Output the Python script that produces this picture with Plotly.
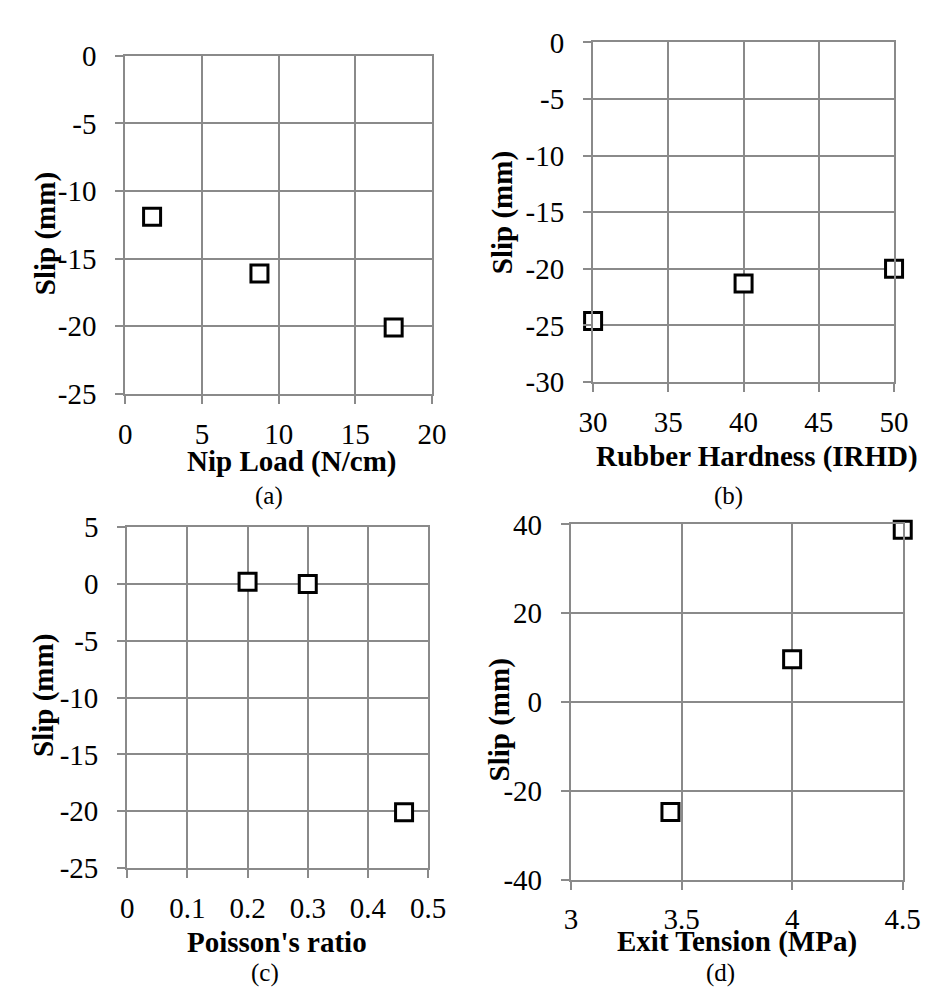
import plotly.graph_objects as go

# ---------------- data ----------------
nip_load = [1.75, 8.75, 17.5]
slip_a = [-11.9, -16.1, -20.1]

hardness = [30, 40, 50]
slip_b = [-24.6, -21.3, -20.0]

poisson = [0.2, 0.3, 0.46]
slip_c = [0.2, 0.0, -20.1]

exit_tension = [3.45, 4.0, 4.5]
slip_d = [-24.8, 9.6, 38.8]

# tick values / labels
a_xticks = [0, 5, 10, 15, 20]
a_yticks = [0, -5, -10, -15, -20, -25]
b_xticks = [30, 35, 40, 45, 50]
b_yticks = [0, -5, -10, -15, -20, -25, -30]
c_xticks = [0, 0.1, 0.2, 0.3, 0.4, 0.5]
c_yticks = [5, 0, -5, -10, -15, -20, -25]
d_xticks = [3, 3.5, 4, 4.5]
d_yticks = [40, 20, 0, -20, -40]

x_titles = ["Nip Load (N/cm)", "Rubber Hardness (IRHD)", "Poisson's ratio", "Exit Tension (MPa)"]
y_title = "Slip (mm)"
captions = ["(a)", "(b)", "(c)", "(d)"]

# ---------------- layout geometry (pixels) ----------------
W, H = 933, 996
FONT = '"Liberation Serif", "Times New Roman", "DejaVu Serif", serif'
GRID = "#8a8a8a"

panels = [
    dict(x=nip_load, y=slip_a, xt=a_xticks, yt=a_yticks, xr=[0, 20], yr=[-25, 0],
         box=(106, 424, 33, 382)),
    dict(x=hardness, y=slip_b, xt=b_xticks, yt=b_yticks, xr=[30, 50], yr=[-30, 0],
         box=(591, 903, 19, 370)),
    dict(x=poisson, y=slip_c, xt=c_xticks, yt=c_yticks, xr=[0, 0.5], yr=[-25, 5],
         box=(108, 420, 520, 872)),
    dict(x=exit_tension, y=slip_d, xt=d_xticks, yt=d_yticks, xr=[3, 4.5], yr=[-40, 40],
         box=(568, 912, 517, 884)),
]

xtitle_pos = [(278, 452), (761, 447), (263, 948), (740, 948)]
ytitle_pos = [(23, 217), (497, 195), (21, 694), (494, 719)]
caption_pos = [(255, 488), (731, 488), (251, 980), (723, 980)]


def fmt(v):
    return "%g" % v


fig = go.Figure()
layout = dict(
    width=W, height=H, margin=dict(l=0, r=0, t=0, b=0),
    paper_bgcolor="white", plot_bgcolor="white", showlegend=False,
    font=dict(family=FONT, color="black"),
)

annotations = []
for i, p in enumerate(panels):
    n = "" if i == 0 else str(i + 1)
    xa, ya = "x" + n, "y" + n
    fig.add_trace(go.Scatter(
        x=p["x"], y=p["y"], mode="markers", xaxis=xa, yaxis=ya,
        marker=dict(symbol="square", size=17, color="white",
                    line=dict(color="black", width=3)),
        cliponaxis=False, hoverinfo="skip",
    ))
    l, r, t, b = p["box"]
    common = dict(showgrid=True, gridcolor=GRID, gridwidth=2, zeroline=False,
                  showline=True, linecolor=GRID, linewidth=2, mirror=True,
                  ticks="outside", ticklen=8, tickwidth=2, tickcolor=GRID,
                  tickfont=dict(family=FONT, size=29, color="black"))
    layout["xaxis" + n] = dict(
        domain=[l / W, r / W], range=p["xr"], anchor=ya,
        tickvals=p["xt"], ticktext=[fmt(v) for v in p["xt"]],
        ticklabelstandoff=5, **common)
    layout["yaxis" + n] = dict(
        domain=[1 - b / H, 1 - t / H], range=p["yr"], anchor=xa,
        tickvals=p["yt"], ticktext=[fmt(v) for v in p["yt"]],
        ticklabelstandoff=13, **common)

    xt = xtitle_pos[i]
    annotations.append(dict(text=x_titles[i], x=xt[0] / W, y=1 - xt[1] / H,
                            xref="paper", yref="paper", showarrow=False,
                            xanchor="center", yanchor="middle",
                            font=dict(family=FONT, size=29, weight="bold", color="black")))
    yt = ytitle_pos[i]
    annotations.append(dict(text=y_title, x=yt[0] / W, y=1 - yt[1] / H,
                            xref="paper", yref="paper", showarrow=False, textangle=-90,
                            xanchor="center", yanchor="middle",
                            font=dict(family=FONT, size=29, weight="bold", color="black")))
    cp = caption_pos[i]
    annotations.append(dict(text=captions[i], x=cp[0] / W, y=1 - cp[1] / H,
                            xref="paper", yref="paper", showarrow=False,
                            xanchor="center", yanchor="middle",
                            font=dict(family=FONT, size=25, color="black")))

layout["annotations"] = annotations
fig.update_layout(**layout)
fig.write_html("out.html")
